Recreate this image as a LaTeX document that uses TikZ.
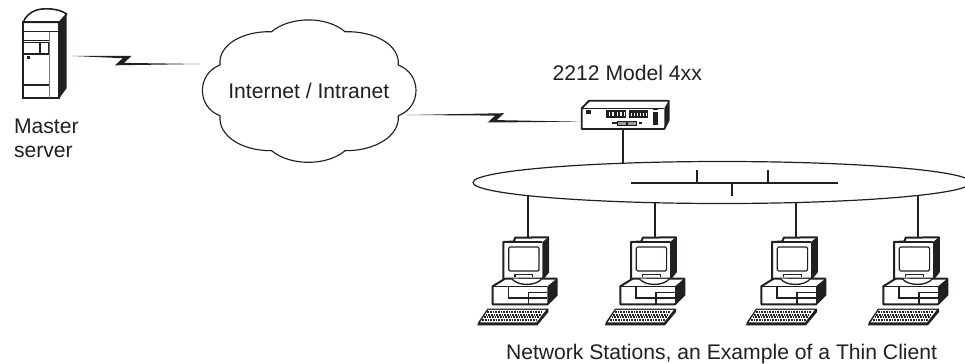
\documentclass[tikz,border=0pt]{standalone}
\usepackage{fontspec}
\setmainfont{Liberation Sans}
\usetikzlibrary{shapes.geometric,calc}
\definecolor{ink}{HTML}{231F20}
\tikzset{
  x=0.75pt,y=-0.75pt,
  every node/.style={inner sep=0pt,outer sep=0pt,text=ink,font=\fontsize{15.85pt}{17.8pt}\selectfont},
  wire/.style={draw=ink,line width=1.5pt},
  busbar/.style={draw=ink,line width=1.8pt},
  pcstation/.pic={
    \coordinate (-top) at (0,0);
    % monitor
    \filldraw[fill=white,draw=ink,line width=1.5pt,line join=round]
      (-24.3,5) -- (-14,4.5) -- (-12.5,0.7) -- (20.5,0.3) -- (20.5,35) -- (14.7,42) -- (-24.3,42) -- cycle;
    \fill[ink] (14.7,5) -- (20.5,0.3) -- (20.5,35) -- (14.7,42) -- cycle;
    \draw[ink,line width=1.1pt] (-24.3,5) -- (14.7,5);
    \draw[ink,line width=.9pt,rounded corners=1pt] (-19,10) rectangle (11.3,34);
    \draw[ink,line width=.8pt] (-12.7,40) -- (-12.7,37.7) -- (5,37.7) -- (5,40);
    % base
    \filldraw[fill=white,draw=ink,line width=1.5pt,line join=round]
      (-35,49.3) -- (-22.7,41.7) -- (29,41.7) -- (29,58) -- (19.7,67.3) -- (-35,67.3) -- cycle;
    \fill[ink] (19.7,49.3) -- (29,41.7) -- (29,58) -- (19.7,67.3) -- cycle;
    \draw[ink,line width=1.1pt] (-35,49.3) -- (19.7,49.3);
    \draw[ink,line width=.85pt] (-19.3,49.3) -- (-19.3,61) -- (0.7,61);
    \draw[ink,line width=.85pt] (0.7,67.3) -- (0.7,55.5) -- (19.7,55.5) (0.7,61) -- (19.7,61);
    \filldraw[fill=white,draw=ink,line width=1pt]
      (-16,41.7) .. controls (-10,49.3) and (8,49.3) .. (14,41.9);
    % keyboard
    \fill[ink] (-40.3,71.7) -- (20.7,71.7) -- (20.7,75) -- (9.7,88.3) -- (-50.3,88.3) -- (-49.3,85) -- cycle;
    \fill[white] (-39.5,72.9) -- (18.3,72.9) -- (8.6,85.4) -- (-47.6,85.4) -- cycle;
    \foreach \yy/\xa/\xb in {75.0/-40.3/15.2, 77.6/-42/13.2, 80.2/-43.7/11.2, 82.8/-45.4/9.2}
      \draw[ink,line width=1.4pt,dash pattern=on 1.2pt off .8pt] (\xa,\yy) -- (\xb,\yy);
  }
}
\newcommand{\zapline}[4]{%
  \fill[ink] (#1) -- (#2) -- ([shift={(9,-2.4)}]#3) -- (#4) -- (#3) -- ([shift={(-9,2.4)}]#2) -- cycle;}
\begin{document}
\begin{tikzpicture}
\clip (0,0) rectangle (965,364);
\fill[white] (0,0) rectangle (965,364);
% server
\filldraw[fill=white,draw=ink,line width=1.2pt,line join=round]
  (23.3,22.3) .. controls (25,17) and (30,12) .. (36.7,10)
  .. controls (44,8) and (58,8) .. (66.7,14) -- (59.3,22.3) -- cycle;
\fill[ink] (59.3,22.3) -- (66.7,14) -- (66.7,88) -- (59.3,98.3) -- cycle;
\draw[ink,line width=1.4pt] (23.3,22.3) rectangle (59.3,98.3);
\draw[ink,line width=1pt] (23.3,31.7) -- (59.3,31.7);
\draw[ink,line width=1pt] (23.3,40.7) -- (49.3,40.7) (23.3,42.7) -- (49.3,42.7) (23.3,54) -- (49.3,54);
\draw[ink,line width=1pt] (40,42.7) -- (40,54) (48.3,42.7) -- (48.3,54);
\draw[ink!60,line width=1.2pt] (49.3,31.7) -- (49.3,98.3);
\draw[ink,line width=1pt] (23.3,85) -- (49.3,85);
\fill[ink] (27.3,56) rectangle (30,58.7);
\coordinate (serverout) at (72.7,56);
\node[anchor=north west,align=left] (master) at (14,119.3) {Master\\server};
% cloud
\draw[ink,line width=.85pt,line join=round]
  (271.7,31.7) .. controls (290,16) and (327,16) .. (345,31.7)
  .. controls (375,31) and (400,45) .. (398.3,65)
  .. controls (421.9,74) and (421.9,107) .. (398.3,115.7)
  .. controls (400,136) and (375,151) .. (345,150.7)
  .. controls (327,166.2) and (290,166.2) .. (271.7,150.7)
  .. controls (242,151) and (218,136) .. (220,115.7)
  .. controls (196.5,107) and (196.5,74) .. (220,65)
  .. controls (218,45) and (242,31) .. (271.7,31.7) -- cycle;
\node[anchor=base west] (cloud) at (228.3,98.3) {Internet / Intranet};
\coordinate (cloudin) at (200,64);
\coordinate (cloudout) at (406.7,115);
% lightning 1
\coordinate (z1a) at (131.7,55.8);
\coordinate (z1b) at (115,65.3);
\zapline{serverout}{z1a}{z1b}{cloudin}
% router
\coordinate (routerin) at (581.7,121.7);
\filldraw[fill=white,draw=ink,line width=1.4pt,line join=round]
  (581.7,108.3) -- (589,100.7) -- (668.7,100.7) -- (668.7,120) -- (664.3,129) -- (581.7,129) -- cycle;
\fill[ink] (664.3,108.3) -- (668.7,100.7) -- (668.7,120) -- (664.3,129) -- cycle;
\draw[ink,line width=1.1pt] (581.7,108.3) -- (664.3,108.3);
\fill[ink] (586,110) rectangle (590.7,114.3);
\fill[ink] (606,110) rectangle (626,117.7);
\fill[ink] (629.3,110) rectangle (648.3,117.7);
\foreach \xx in {608.5,612,616.5,620,623.5} \fill[white] (\xx,112) rectangle ++(1.6,3.8);
\foreach \xx in {631,634,637,640,643,646} \fill[white] (\xx,112.5) rectangle ++(1.3,3);
\fill[ink] (653,111.7) rectangle (657.7,125);
\fill[ink] (653,109) rectangle (657.7,110);
\fill[ink] (612.3,122) rectangle (616.7,124);
\filldraw[fill=ink!45,draw=ink,line width=.7pt] (617.3,121) rectangle (626,125);
\filldraw[fill=ink!45,draw=ink,line width=.7pt] (627.3,121) rectangle (636,125);
\fill[ink] (639,122) rectangle (641.7,124.3);
\coordinate (routerout) at (622.7,129);
\node[anchor=base west] (model) at (552.7,80) {2212 Model 4xx};
% lightning 2
\coordinate (z2a) at (504,113.2);
\coordinate (z2b) at (487.7,122.5);
\zapline{cloudout}{z2a}{z2b}{routerin}
% ring
\node[ellipse,draw=ink,line width=.9pt,minimum width=373.5pt,minimum height=31.5pt] (ring) at (722,182.5) {};
\coordinate (ringtop) at (622.7,163.4);
\draw[wire,line width=1.7pt] (routerout) -- (ringtop);
\coordinate (busl) at (631,182.7);
\coordinate (busr) at (838,182.7);
\draw[busbar] (busl) -- (busr);
\coordinate (t1) at (696.5,182.7);\coordinate (t1e) at (696.5,169.5);
\coordinate (t2) at (768,182.7);\coordinate (t2e) at (768,169.5);
\coordinate (t3) at (731.5,182.7);\coordinate (t3e) at (731.5,196);
\draw[wire] (t1) -- (t1e);
\draw[wire] (t2) -- (t2e);
\draw[wire] (t3) -- (t3e);
% stations
\pic (pca) at (527.7,237) {pcstation};
\pic (pcb) at (655.3,237) {pcstation};
\pic (pcc) at (796.3,237) {pcstation};
\pic (pcd) at (918.3,237) {pcstation};
\coordinate (ra) at (527.7,195.8);
\coordinate (rb) at (655.3,202.9);
\coordinate (rc) at (796.3,202.8);
\coordinate (rd) at (918.3,195.7);
\draw[wire] (ra) -- (pca-top);
\draw[wire] (rb) -- (pcb-top);
\draw[wire] (rc) -- (pcc-top);
\draw[wire] (rd) -- (pcd-top);
\node[anchor=base west] (caption) at (506,359) {Network Stations, an Example of a Thin Client};
\end{tikzpicture}
\end{document}
